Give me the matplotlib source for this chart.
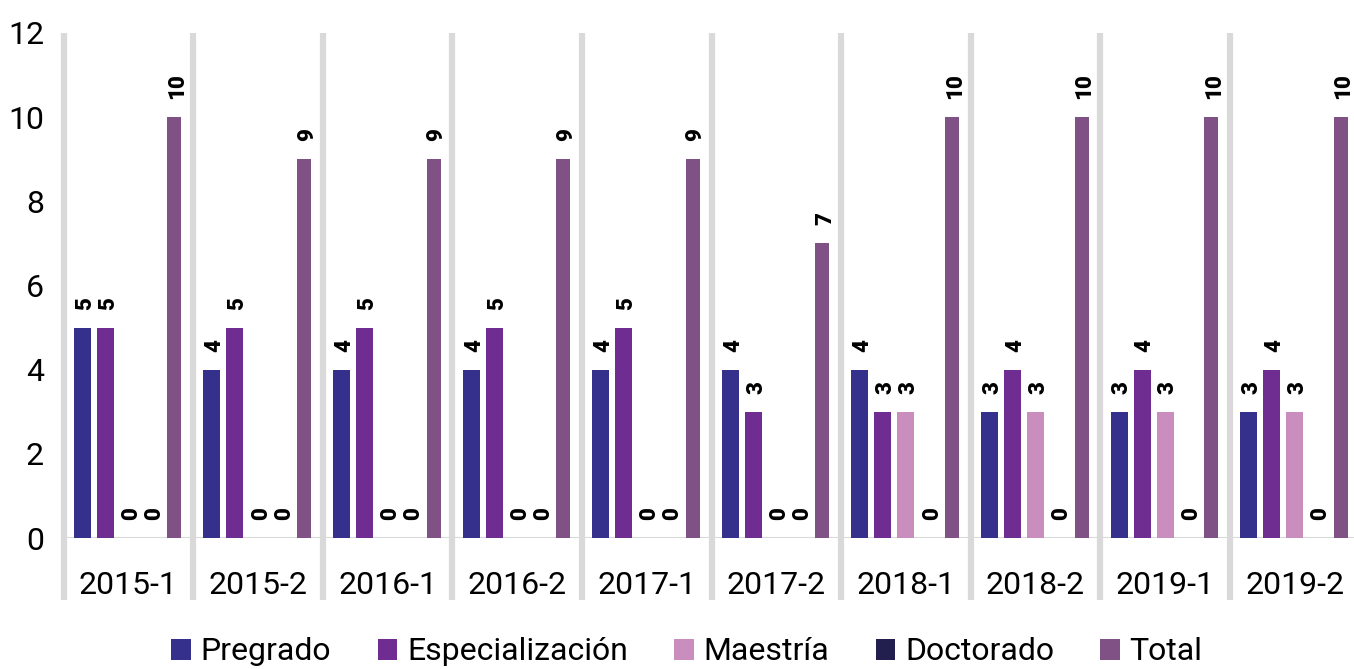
import matplotlib
matplotlib.use("Agg")
import matplotlib.pyplot as plt
import matplotlib.transforms as mtransforms
from matplotlib.patches import Patch
import numpy as np

plt.rcParams['font.family'] = ['Roboto', 'DejaVu Sans']

categories = ["2015-1", "2015-2", "2016-1", "2016-2", "2017-1",
              "2017-2", "2018-1", "2018-2", "2019-1", "2019-2"]
series_names = ["Pregrado", "Especialización", "Maestría", "Doctorado", "Total"]
pregrado = [5, 4, 4, 4, 4, 4, 4, 3, 3, 3]
especializacion = [5, 5, 5, 5, 5, 3, 3, 4, 4, 4]
maestria = [0, 0, 0, 0, 0, 0, 3, 3, 3, 3]
doctorado = [0, 0, 0, 0, 0, 0, 0, 0, 0, 0]
total = [10, 9, 9, 9, 9, 7, 10, 10, 10, 10]
colors = ["#35308C", "#6F2C91", "#C98EBE", "#221F4F", "#7F5185"]

series = [pregrado, especializacion, maestria, doctorado, total]

W, H = 1354, 669
fig = plt.figure(figsize=(W / 100, H / 100), dpi=100)
left = 63.5 / W
bottom = (H - 538) / H
height = (538 - 33) / H
width = 1296 / W
ax = fig.add_axes([left, bottom, width, height])

n = len(categories)
x = np.arange(n) + 0.5
offsets = [-0.355, -0.178, 0.0, 0.178, 0.355]
widths = [0.131, 0.131, 0.131, 0.131, 0.108]

for vals, off, w, c in zip(series, offsets, widths, colors):
    ax.bar(x + off, vals, width=w, color=c, zorder=3)
    for xi, v in zip(x + off, vals):
        ax.annotate(f"{v}", xy=(xi, v), xytext=(2, 13), textcoords="offset points",
                    rotation=90, ha="center", va="bottom", fontsize=16,
                    fontweight="heavy", color="black", zorder=4)

ax.set_xlim(0, n)
ax.set_ylim(0, 12)
ax.set_yticks(range(0, 13, 2))
ax.set_xticks(x)
ax.set_xticklabels(categories)
ax.tick_params(axis="both", length=0, labelsize=23, colors="black")
ax.tick_params(axis="y", pad=14)
ax.tick_params(axis="x", pad=24)
for s in ax.spines.values():
    s.set_visible(False)

trans = mtransforms.blended_transform_factory(ax.transData, ax.transAxes)
for k in range(n):
    ax.plot([k, k], [-0.123, 1.0], transform=trans, clip_on=False,
            color="#d9d9d9", lw=4.5, solid_capstyle="butt", zorder=1)
ax.axhline(0, color="#d9d9d9", lw=1.5, zorder=2)

handles = [Patch(facecolor=c, edgecolor="none") for c in colors]
fig.legend(handles, series_names, loc="center", bbox_to_anchor=(687 / W, 17 / H),
           ncol=5, frameon=False, fontsize=23, handlelength=0.62, handleheight=0.62,
           handletextpad=0.3, columnspacing=1.45, borderpad=0)

fig.savefig("out.png", dpi=100)
